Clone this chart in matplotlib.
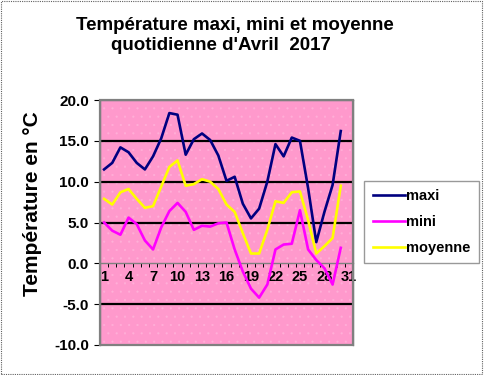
import matplotlib
matplotlib.use("Agg")
import matplotlib.pyplot as plt
from matplotlib.patches import Rectangle

# ── données ─────────────────────────────────────
JOURS = list(range(1, 31))
MAXI = [11.5, 12.3, 14.2, 13.6, 12.3, 11.5, 13.1, 15.3, 18.4, 18.2,
        13.3, 15.2, 15.9, 15.1, 13.2, 10.1, 10.6, 7.3, 5.5, 6.7,
        10.0, 14.6, 13.1, 15.4, 15.0, 9.2, 2.6, 6.3, 9.6, 16.2]
MINI = [5.0, 4.0, 3.5, 5.6, 4.8, 2.8, 1.7, 4.4, 6.4, 7.4,
        6.3, 4.1, 4.6, 4.5, 4.9, 5.0, 1.7, -1.0, -3.1, -4.2,
        -2.6, 1.7, 2.3, 2.4, 6.5, 1.7, 0.4, -0.6, -2.6, 1.9]
MOY = [7.9, 7.2, 8.7, 9.1, 7.9, 6.8, 7.0, 9.4, 11.8, 12.6,
       9.5, 9.7, 10.3, 10.0, 9.1, 7.2, 6.3, 3.7, 1.2, 1.2,
       4.1, 7.6, 7.4, 8.7, 8.8, 5.3, 1.2, 2.1, 3.1, 9.5]
XLABELS = [1, 4, 7, 10, 13, 16, 19, 22, 25, 28, 31]
YTICKS = [-10, -5, 0, 5, 10, 15, 20]

plt.rcParams["font.family"] = ["Liberation Sans", "DejaVu Sans"]
plt.rcParams["hatch.linewidth"] = 0.3
GRIS = "#808080"

fig = plt.figure(figsize=(4.84, 3.75), dpi=100)
ax = fig.add_axes([100 / 484, 1 - 345 / 375, 253 / 484, 245 / 375])

ax.set_facecolor("#FF99CC")
ax.add_patch(Rectangle((0, 0), 1, 1, transform=ax.transAxes, facecolor="none",
                       edgecolor="#FFB0D8", hatch="..", linewidth=0, zorder=0))

# quadrillage
for y in [15, 10, 5, -5]:
    ax.axhline(y, color="black", linewidth=1.6, zorder=1)

ax.plot(JOURS, MAXI, color="#000080", linewidth=1.9, label="maxi", zorder=3)
ax.plot(JOURS, MINI, color="#FF00FF", linewidth=1.9, label="mini", zorder=3)
ax.plot(JOURS, MOY, color="#FFFF00", linewidth=1.9, label="moyenne", zorder=3)

ax.set_xlim(0.5, 31.5)
ax.set_ylim(-10, 20)

# axe des catégories au niveau 0
for s in ["left", "right", "top"]:
    ax.spines[s].set_color(GRIS)
    ax.spines[s].set_linewidth(1.0)
ax.spines["bottom"].set_position(("data", 0))
ax.spines["bottom"].set_color(GRIS)
ax.spines["bottom"].set_linewidth(1.0)
ax.add_patch(Rectangle((0, 0), 1, 1, transform=ax.transAxes, fill=False,
                       edgecolor=GRIS, linewidth=1.6, clip_on=False, zorder=4))

ax.set_xticks([k + 0.5 for k in range(0, 32)])
ax.set_xticklabels([])
ax.set_xticks(XLABELS, minor=True)
ax.set_xticklabels([str(v) for v in XLABELS], minor=True,
                   fontsize=10.5, fontweight="bold")
ax.tick_params(axis="x", which="major", length=3, color="black", width=0.7)
ax.tick_params(axis="x", which="minor", length=0, pad=5)

ax.set_yticks(YTICKS)
ax.set_yticklabels([f"{v:.1f}" for v in YTICKS], fontsize=11, fontweight="bold")
ax.tick_params(axis="y", length=4, color="black", width=0.8, pad=4)

fig.text(33 / 484, 1 - 204 / 375, "Température en °C", rotation=90,
         ha="center", va="center", fontsize=15, fontweight="bold")

fig.text(235 / 484, 1 - 25 / 375, "Température maxi, mini et moyenne",
         ha="center", va="center", fontsize=13.5, fontweight="bold")
fig.text(221 / 484, 1 - 46 / 375, "quotidienne d'Avril  2017",
         ha="center", va="center", fontsize=13.5, fontweight="bold")

leg = fig.legend(loc="center left", bbox_to_anchor=(364 / 484, 1 - 222 / 375),
                 frameon=True, fancybox=False, handlelength=2.2,
                 handletextpad=0.1, labelspacing=0.8, borderpad=0.6,
                 borderaxespad=0, prop={"weight": "bold", "size": 10.5})
leg.get_frame().set_edgecolor(GRIS)
leg.get_frame().set_linewidth(1.0)

# cadre pointillé du graphique
fig.add_artist(Rectangle((0.002, 0.003), 0.994, 0.994, transform=fig.transFigure,
                         fill=False, edgecolor="#606060", linewidth=0.8,
                         linestyle=(0, (1, 1))))

fig.savefig("out.png", dpi=100)
